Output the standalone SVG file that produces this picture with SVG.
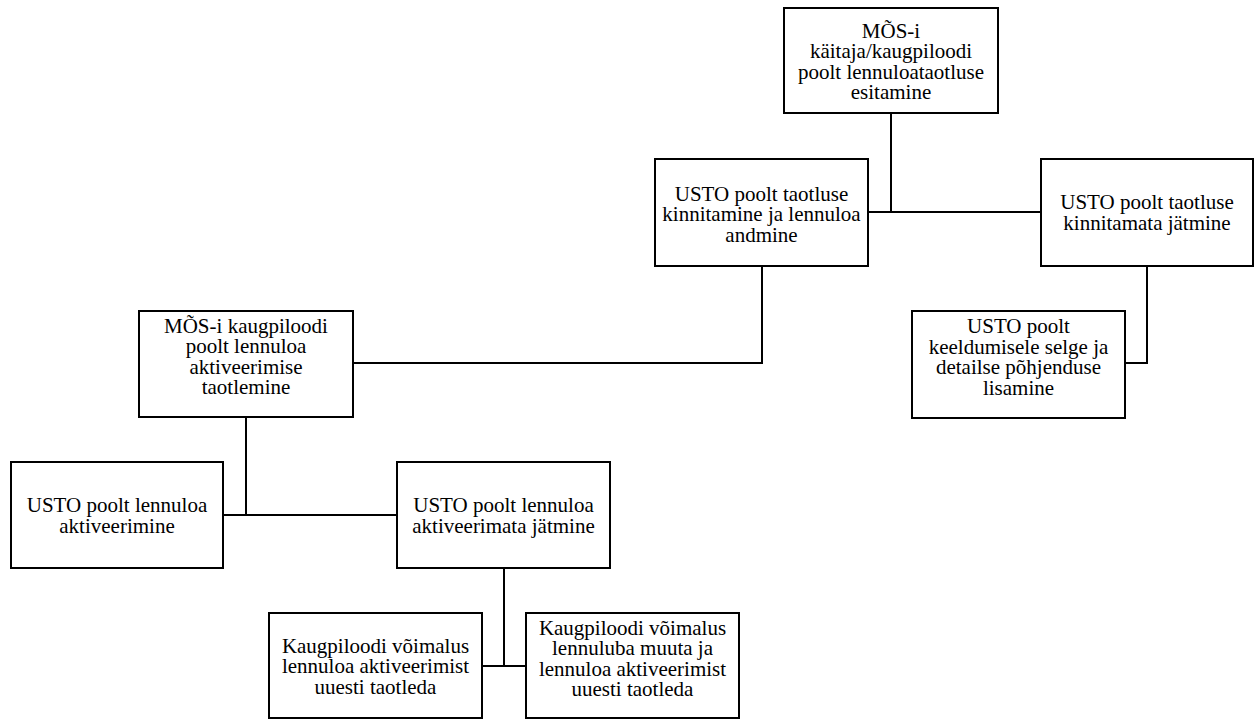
<svg xmlns="http://www.w3.org/2000/svg" width="1254" height="720" viewBox="0 0 1254 720">
<style>
rect.box{fill:#fff;stroke:#000;stroke-width:2}
.conn path{fill:none;stroke:#000;stroke-width:2}
text{font-family:'Liberation Serif','DejaVu Serif',serif;font-size:21px;fill:#000;text-anchor:middle}
</style>
<rect width="1254" height="720" fill="#fff"/>
<g class="conn">
<path d="M891 113V212M868 212H1041"/>
<path d="M1147 266V363H1125"/>
<path d="M762 266V363H353"/>
<path d="M246 417V515M223 515H397"/>
<path d="M504 568V666M482 666H526"/>
</g>
<g id="n1"><rect class="box" x="784" y="8" width="214" height="105"/>
<text><tspan x="891" y="37.5">MÕS-i</tspan><tspan x="891" y="58">käitaja/kaugpiloodi</tspan><tspan x="891" y="78.5">poolt lennuloataotluse</tspan><tspan x="891" y="99">esitamine</tspan></text></g>
<g id="n2"><rect class="box" x="655" y="159" width="213" height="107"/>
<text><tspan x="761.5" y="200.5">USTO poolt taotluse</tspan><tspan x="761.5" y="221">kinnitamine ja lennuloa</tspan><tspan x="761.5" y="241.5">andmine</tspan></text></g>
<g id="n3"><rect class="box" x="1041" y="159" width="212" height="107"/>
<text><tspan x="1147" y="209">USTO poolt taotluse</tspan><tspan x="1147" y="229.5">kinnitamata jätmine</tspan></text></g>
<g id="n4"><rect class="box" x="912" y="311" width="213" height="107"/>
<text><tspan x="1018.5" y="333">USTO poolt</tspan><tspan x="1018.5" y="353.5">keeldumisele selge ja</tspan><tspan x="1018.5" y="374">detailse põhjenduse</tspan><tspan x="1018.5" y="394.5">lisamine</tspan></text></g>
<g id="n5"><rect class="box" x="139" y="311" width="214" height="106"/>
<text><tspan x="246" y="332.5">MÕS-i kaugpiloodi</tspan><tspan x="246" y="353">poolt lennuloa</tspan><tspan x="246" y="373.5">aktiveerimise</tspan><tspan x="246" y="394">taotlemine</tspan></text></g>
<g id="n6"><rect class="box" x="11" y="462" width="212" height="106"/>
<text><tspan x="117" y="512">USTO poolt lennuloa</tspan><tspan x="117" y="532.5">aktiveerimine</tspan></text></g>
<g id="n7"><rect class="box" x="397" y="462" width="213" height="106"/>
<text><tspan x="503.5" y="512">USTO poolt lennuloa</tspan><tspan x="503.5" y="532.5">aktiveerimata jätmine</tspan></text></g>
<g id="n8"><rect class="box" x="269" y="613" width="213" height="105"/>
<text><tspan x="375.5" y="652.5">Kaugpiloodi võimalus</tspan><tspan x="375.5" y="673">lennuloa aktiveerimist</tspan><tspan x="375.5" y="693.5">uuesti taotleda</tspan></text></g>
<g id="n9"><rect class="box" x="526" y="613" width="213" height="105"/>
<text><tspan x="632.5" y="634.5">Kaugpiloodi võimalus</tspan><tspan x="632.5" y="655">lennuluba muuta ja</tspan><tspan x="632.5" y="675.5">lennuloa aktiveerimist</tspan><tspan x="632.5" y="696">uuesti taotleda</tspan></text></g>
</svg>
